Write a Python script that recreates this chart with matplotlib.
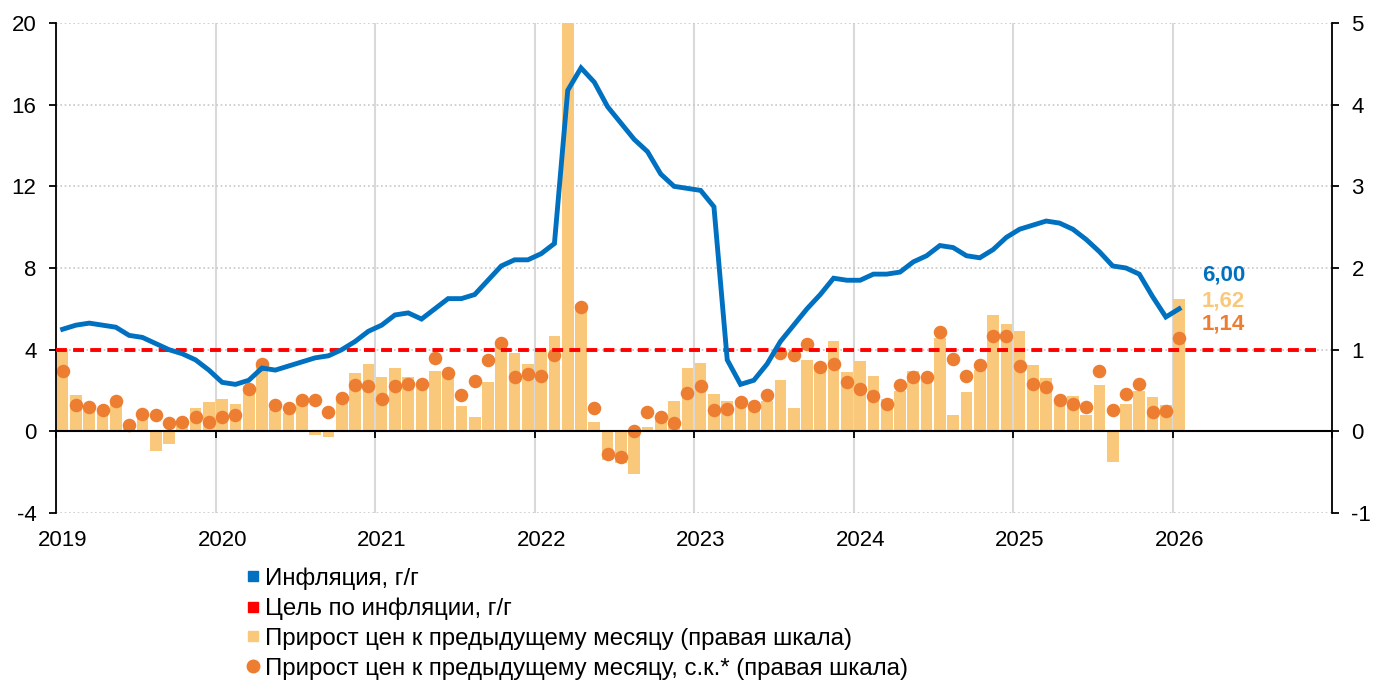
import numpy as np
import matplotlib
matplotlib.use("Agg")
import matplotlib.pyplot as plt
from matplotlib.lines import Line2D
import matplotlib.transforms as mtransforms

plt.rcParams['font.family'] = ['Liberation Sans', 'DejaVu Sans']
plt.rcParams['axes.unicode_minus'] = False

# ---------------- data ----------------
years = [2019, 2020, 2021, 2022, 2023, 2024, 2025, 2026]

# Inflation, y/y, % (left axis) Jan 2019 .. Jan 2026
infl_yoy = [5.0, 5.2, 5.3, 5.2, 5.1, 4.7, 4.6, 4.3, 4.0, 3.8, 3.5, 3.0,
            2.4, 2.3, 2.5, 3.1, 3.0, 3.2, 3.4, 3.6, 3.7, 4.0, 4.4, 4.9,
            5.2, 5.7, 5.8, 5.5, 6.0, 6.5, 6.5, 6.7, 7.4, 8.1, 8.4, 8.4,
            8.7, 9.2, 16.7, 17.8, 17.1, 15.9, 15.1, 14.3, 13.7, 12.6, 12.0, 11.9,
            11.8, 11.0, 3.5, 2.3, 2.5, 3.3, 4.4, 5.2, 6.0, 6.7, 7.5, 7.4,
            7.4, 7.7, 7.7, 7.8, 8.3, 8.6, 9.1, 9.0, 8.6, 8.5, 8.9, 9.5,
            9.9, 10.1, 10.3, 10.2, 9.9, 9.4, 8.8, 8.1, 8.0, 7.7, 6.6, 5.6,
            6.0]

# Price growth m/m, % (right axis)
mom = [1.01, 0.44, 0.32, 0.29, 0.34, 0.04, 0.20, -0.24, -0.16, 0.13, 0.28, 0.36,
       0.40, 0.33, 0.55, 0.83, 0.27, 0.22, 0.35, -0.04, -0.07, 0.43, 0.71, 0.83,
       0.67, 0.78, 0.66, 0.58, 0.74, 0.69, 0.31, 0.17, 0.60, 1.11, 0.96, 0.82,
       0.99, 1.17, 7.61, 1.56, 0.12, -0.35, -0.39, -0.52, 0.05, 0.18, 0.37, 0.78,
       0.84, 0.46, 0.37, 0.38, 0.31, 0.37, 0.63, 0.28, 0.87, 0.83, 1.11, 0.73,
       0.86, 0.68, 0.39, 0.50, 0.74, 0.64, 1.14, 0.20, 0.48, 0.75, 1.43, 1.32,
       1.23, 0.81, 0.65, 0.40, 0.43, 0.20, 0.57, -0.38, 0.34, 0.50, 0.42, 0.32,
       1.62]

# Price growth m/m, seasonally adjusted, % (right axis)
mom_sa = [0.74, 0.32, 0.30, 0.26, 0.37, 0.08, 0.21, 0.20, 0.10, 0.12, 0.17, 0.12,
          0.17, 0.20, 0.52, 0.82, 0.32, 0.28, 0.38, 0.38, 0.24, 0.41, 0.57, 0.55,
          0.39, 0.56, 0.58, 0.58, 0.90, 0.72, 0.44, 0.62, 0.87, 1.08, 0.67, 0.70,
          0.68, 0.93, 7.30, 1.52, 0.28, -0.28, -0.32, 0.00, 0.24, 0.18, 0.10, 0.47,
          0.55, 0.26, 0.27, 0.36, 0.31, 0.45, 0.96, 0.94, 1.07, 0.79, 0.83, 0.60,
          0.52, 0.43, 0.34, 0.57, 0.67, 0.67, 1.22, 0.88, 0.68, 0.81, 1.17, 1.17,
          0.80, 0.58, 0.54, 0.38, 0.34, 0.30, 0.74, 0.26, 0.46, 0.58, 0.24, 0.25,
          1.14]

target = 4.0

labels = ["Инфляция, г/г",
          "Цель по инфляции, г/г",
          "Прирост цен к предыдущему месяцу (правая шкала)",
          "Прирост цен к предыдущему месяцу, с.к.* (правая шкала)"]

left_ticks = [-4, 0, 4, 8, 12, 16, 20]
right_ticks = [-1, 0, 1, 2, 3, 4, 5]

# ---------------- styling ----------------
BLUE = '#0070C0'
RED = '#FF0000'
BAR = '#F9C87A'
DOT = '#ED7D31'
FS = 16

W, H = 1386, 682
fig = plt.figure(figsize=(W / 100, H / 100), dpi=100)
x0, x1, ytop, ybot = 56, 1332, 23, 513
ax = fig.add_axes([x0 / W, 1 - ybot / H, (x1 - x0) / W, (ybot - ytop) / H])
ax2 = ax.twinx()
ax.set_zorder(2)
ax2.set_zorder(1)
ax.patch.set_visible(False)

n = len(infl_yoy)
xm = np.arange(n) + 0.5
span = 12 * len(years)  # Jan 2019 .. Jan 2027
year_edges = np.arange(0, span + 1, 12)

# right axis: bars and dots
ax2.bar(xm, mom, width=0.88, color=BAR, zorder=2)
ax2.scatter(xm, mom_sa, s=95, color=DOT, zorder=3, linewidths=0)
ax2.set_ylim(right_ticks[0], right_ticks[-1])
ax2.set_yticks(right_ticks)
ax2.set_axisbelow(True)
ax2.xaxis.set_visible(True)
ax2.set_xticks(year_edges)
ax2.tick_params(axis='x', bottom=False, top=False, labelbottom=False, labeltop=False)
ax2.grid(axis='x', color='#D9D9D9', lw=1.5, linestyle='-')
ax2.grid(axis='y', color='#C8C8C8', lw=1.2, linestyle=(0, (1, 1.6)))
for s in ['top', 'left', 'bottom']:
    ax2.spines[s].set_visible(False)
ax2.spines['right'].set_linewidth(1.3)
ax2.tick_params(axis='y', direction='out', length=5, width=1.3, labelsize=FS, pad=9)

# left axis: line and target
ax.plot(xm, infl_yoy, color=BLUE, lw=3.5, solid_joinstyle='miter', zorder=4)
ax.axhline(target, xmin=0, xmax=0.99, color=RED, lw=2.8, dashes=(2.8, 1.6), zorder=3)
ax.set_ylim(left_ticks[0], left_ticks[-1])
ax.set_yticks(left_ticks)
ax.set_xlim(0, span)
ax.set_xticks(year_edges)
ax.tick_params(axis='x', direction='out', length=5, width=1.3, labelbottom=False)
ax.tick_params(axis='y', direction='out', length=5, width=1.3, labelsize=FS, pad=9)
ax.spines['bottom'].set_position(('data', 0))
ax.spines['bottom'].set_linewidth(1.5)
ax.spines['left'].set_linewidth(1.3)
for s in ['top', 'right']:
    ax.spines[s].set_visible(False)

trans = mtransforms.blended_transform_factory(ax.transData, ax.transAxes)
for k, yr in enumerate(years):
    ax.text(12 * k + 0.5, -(541 - ybot) / (ybot - ytop), str(yr), transform=trans,
            ha='center', va='center', fontsize=FS)

# last-value labels
fmt = lambda v: f"{v:.2f}".replace('.', ',')
lx = xm[-1] + 1.7
ax.text(lx, 7.68, fmt(infl_yoy[-1]), color=BLUE, fontsize=16, fontweight='bold', va='center', ha='left')
ax.text(lx, 6.40, fmt(mom[-1]), color=BAR, fontsize=16, fontweight='bold', va='center', ha='left')
ax.text(lx, 5.28, fmt(mom_sa[-1]), color=DOT, fontsize=16, fontweight='bold', va='center', ha='left')

# legend
handles = [Line2D([], [], marker='s', color=BLUE, linestyle='none', markersize=7),
           Line2D([], [], marker='s', color=RED, linestyle='none', markersize=7),
           Line2D([], [], marker='s', color=BAR, linestyle='none', markersize=7),
           Line2D([], [], marker='o', color=DOT, linestyle='none', markersize=9)]
fig.legend(handles, labels, loc='upper left', bbox_to_anchor=(246 / W, 1 - 567 / H),
           frameon=False, fontsize=17.3, handlelength=0.55, handletextpad=0.25,
           labelspacing=0.33, borderpad=0, borderaxespad=0)

fig.savefig('out.png', dpi=100)
